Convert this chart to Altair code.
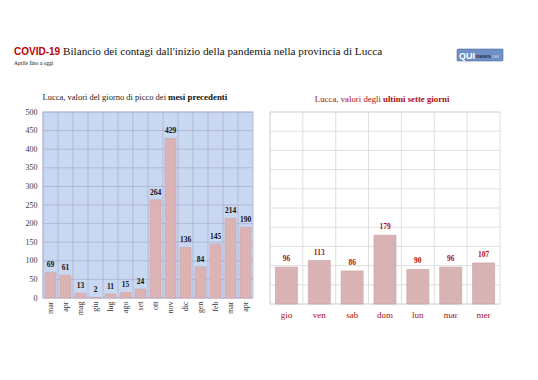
import altair as alt
import pandas as pd

# ---- data ----
months = ["mar", "apr", "mag", "giu", "lug", "ago", "set", "ott", "nov", "dic", "gen", "feb", "mar", "apr"]
peak_values = [69, 61, 13, 2, 11, 15, 24, 264, 429, 136, 84, 145, 214, 190]
days = ["gio", "ven", "sab", "dom", "lun", "mar", "mer"]
day_values = [96, 113, 86, 179, 90, 96, 107]
y_ticks = list(range(0, 501, 50))

month_keys = [f"{m}{i:02d}" for i, m in enumerate(months)]

SERIF = "Liberation Serif"
SANS = "Liberation Sans"
RED = "#b00d0d"
LBG = "#c9d8f1"
LGRID = "#a9abcf"
RGRID = "#d6d6d6"

left_df = pd.DataFrame({"key": month_keys, "v": peak_values})
right_df = pd.DataFrame({"day": days, "v": day_values})
grid_df = pd.DataFrame({"v": y_ticks})

LW, LH = 210, 186
RW, RH = 230, 192


def one(text):
    return pd.DataFrame({"t": [text]})


# ---- header ----
covid = alt.Chart(one("COVID-19")).mark_text(
    align="left", baseline="alphabetic", font=SANS, fontSize=10, fontWeight="bold", color="#c00000"
).encode(x=alt.value(-29), y=alt.value(9), text="t:N")
headline = alt.Chart(one("Bilancio dei contagi dall'inizio della pandemia nella provincia di Lucca")).mark_text(
    align="left", baseline="alphabetic", font=SERIF, fontSize=11.2, color="#111"
).encode(x=alt.value(20), y=alt.value(9), text="t:N")
sub = alt.Chart(one("Aprile fino a oggi")).mark_text(
    align="left", baseline="alphabetic", font=SERIF, fontSize=5.5, color="#111"
).encode(x=alt.value(-29), y=alt.value(19), text="t:N")
logo_box = alt.Chart(one("logo")).mark_rect(
    fill="#6f90c6", stroke="#4d6ea6", strokeWidth=0.6, cornerRadius=1
).encode(x=alt.value(414), x2=alt.value(460), y=alt.value(3), y2=alt.value(15))
logo_qui = alt.Chart(one("QUI")).mark_text(
    align="left", baseline="alphabetic", font=SANS, fontSize=9, fontWeight="bold", color="white"
).encode(x=alt.value(416), y=alt.value(12.5), text="t:N")
logo_news = alt.Chart(one("news")).mark_text(
    align="left", baseline="alphabetic", font=SANS, fontSize=6, fontWeight="bold", color="#1d2f55"
).encode(x=alt.value(433), y=alt.value(12), text="t:N")
logo_net = alt.Chart(one("net")).mark_text(
    align="left", baseline="alphabetic", font=SANS, fontSize=5, color="#c8d4ea"
).encode(x=alt.value(449), y=alt.value(12), text="t:N")
header = alt.layer(covid, headline, sub, logo_box, logo_qui, logo_news, logo_net).properties(width=460, height=20)

# ---- left panel ----
xl = alt.X(
    "key:N", sort=None,
    scale=alt.Scale(paddingInner=0.27, paddingOuter=0.135),
    axis=alt.Axis(title=None, labelAngle=-90, labelExpr="substring(datum.value,0,3)",
                  labelFont=SERIF, labelFontSize=8, labelColor="#3a3a3a",
                  ticks=False, domain=False, grid=False, labelPadding=3),
)
yl = alt.Y(
    "v:Q", scale=alt.Scale(domain=[0, 500], nice=False),
    axis=alt.Axis(title=None, values=y_ticks, labelFont=SERIF, labelFontSize=8,
                  labelColor="#3a3a3a", ticks=False, domain=False, grid=False, labelPadding=6),
)
step_l = LW / len(months)
bg_l = alt.Chart(one("bg")).mark_rect(fill=LBG, stroke=LGRID, strokeWidth=0.7).encode(
    x=alt.value(0), x2=alt.value(LW), y=alt.value(0), y2=alt.value(LH))
spacer = alt.Chart(one("s")).mark_rect(opacity=0).encode(
    x=alt.value(-29), x2=alt.value(-28), y=alt.value(0), y2=alt.value(1))
hgrid_l = alt.Chart(grid_df).mark_rule(color=LGRID, strokeWidth=0.7).encode(y=yl)
vgrid_l = alt.Chart(left_df).mark_rule(color=LGRID, strokeWidth=0.7, xOffset=-step_l / 2).encode(x=xl)
bars_l = alt.Chart(left_df).mark_bar(color="#dcb3b5", stroke="#c9a2a4", strokeWidth=0.5).encode(x=xl, y=yl)
text_l = alt.Chart(left_df).mark_text(
    baseline="bottom", dy=-3, font=SERIF, fontSize=7.5, fontWeight="bold", color="#111"
).encode(x=xl, y=yl, text="v:Q")
lt1 = alt.Chart(one("Lucca, valori del giorno di picco dei")).mark_text(
    align="right", baseline="alphabetic", font=SERIF, fontSize=8.5, color="#222"
).encode(x=alt.value(123), y=alt.value(-12), text="t:N")
lt2 = alt.Chart(one("mesi precedenti")).mark_text(
    align="left", baseline="alphabetic", font=SERIF, fontSize=8.9, fontWeight="bold", color="#111"
).encode(x=alt.value(125), y=alt.value(-12), text="t:N")

left = alt.layer(bg_l, spacer, hgrid_l, vgrid_l, bars_l, text_l, lt1, lt2).properties(width=LW, height=LH)

# ---- right panel ----
xr = alt.X(
    "day:N", sort=None,
    scale=alt.Scale(paddingInner=0.33, paddingOuter=0.165),
    axis=alt.Axis(title=None, labelAngle=0, labelFont=SERIF, labelFontSize=9, labelColor=RED,
                  ticks=False, domain=False, grid=False, labelPadding=6),
)
yr = alt.Y(
    "v:Q", scale=alt.Scale(domain=[0, 500], nice=False),
    axis=None,
)
step_r = RW / len(days)
bg_r = alt.Chart(one("bg")).mark_rect(fill="white", stroke=RGRID, strokeWidth=0.8).encode(
    x=alt.value(0), x2=alt.value(RW), y=alt.value(0), y2=alt.value(RH))
hgrid_r = alt.Chart(grid_df).mark_rule(color=RGRID, strokeWidth=0.8).encode(y=yr)
vgrid_r = alt.Chart(right_df).mark_rule(color=RGRID, strokeWidth=0.8, xOffset=-step_r / 2).encode(x=xr)
bars_r = alt.Chart(right_df).mark_bar(color="#d9b3b4", stroke="#c4a0a1", strokeWidth=0.6).encode(x=xr, y=yr)
text_r = alt.Chart(right_df).mark_text(
    baseline="bottom", dy=-4, font=SERIF, fontSize=7.5, fontWeight="bold", color=RED
).encode(x=xr, y=yr, text="v:Q")
rt1 = alt.Chart(one("Lucca, valori degli")).mark_text(
    align="right", baseline="alphabetic", font=SERIF, fontSize=8.8, color=RED
).encode(x=alt.value(111), y=alt.value(-10), text="t:N")
rt2 = alt.Chart(one("ultimi sette giorni")).mark_text(
    align="left", baseline="alphabetic", font=SERIF, fontSize=8.8, fontWeight="bold", color=RED
).encode(x=alt.value(113), y=alt.value(-10), text="t:N")

right = alt.layer(bg_r, hgrid_r, vgrid_r, bars_r, text_r, rt1, rt2).properties(width=RW, height=RH)

chart = alt.vconcat(header, alt.hconcat(left, right, spacing=15), spacing=26).properties(
    padding={"left": 6, "top": 38, "right": 5, "bottom": 5},
    background="white",
).configure_view(stroke=None)

chart.save("out.html", embed_options={"renderer": "svg", "actions": False})
